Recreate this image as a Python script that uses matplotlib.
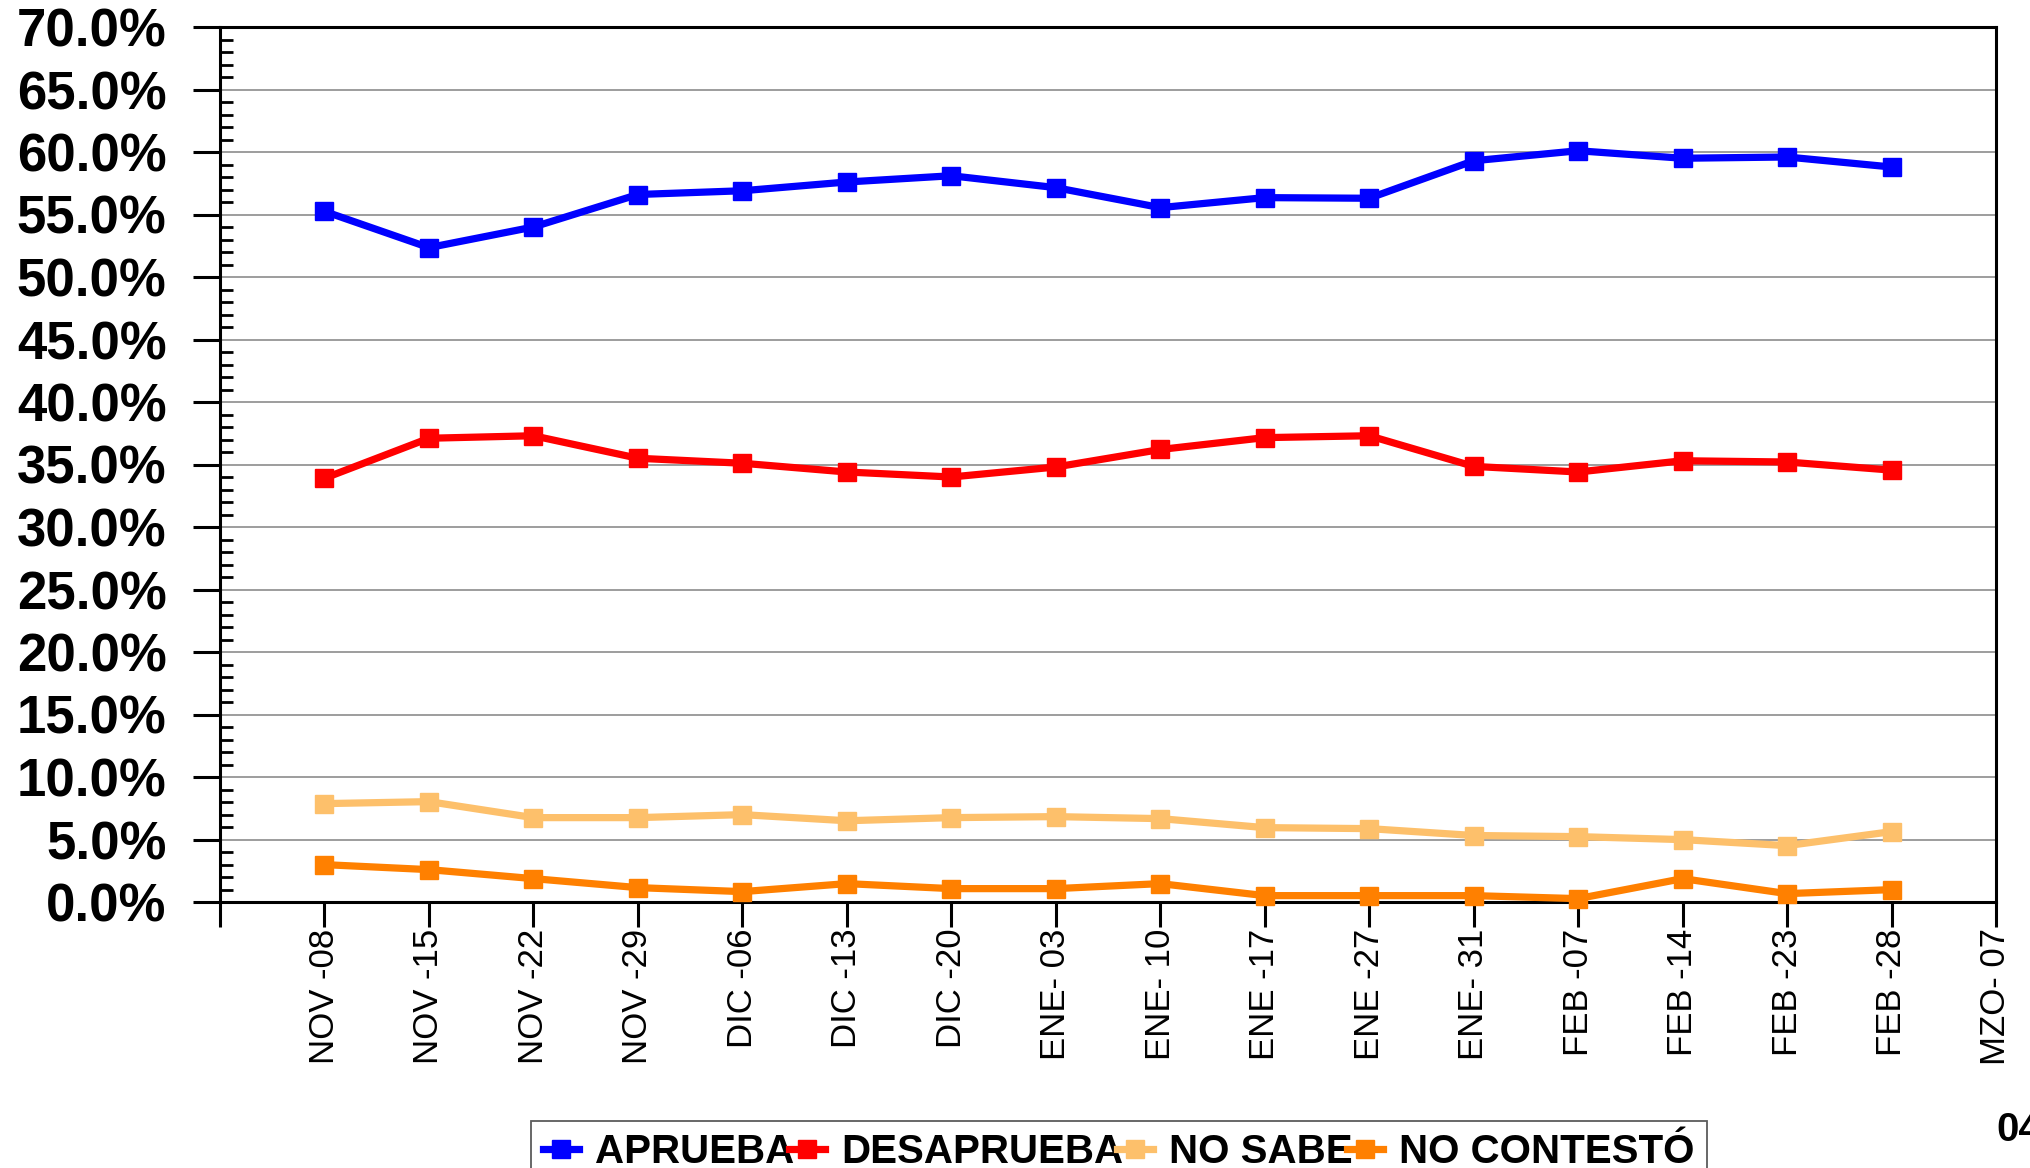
import matplotlib.pyplot as plt
from matplotlib.ticker import MultipleLocator, FuncFormatter

plt.rcParams['font.family'] = ['Liberation Sans', 'DejaVu Sans']

fechas = ['NOV -08', 'NOV -15', 'NOV -22', 'NOV -29', 'DIC -06', 'DIC -13',
          'DIC -20', 'ENE- 03', 'ENE- 10', 'ENE -17', 'ENE -27', 'ENE- 31',
          'FEB -07', 'FEB -14', 'FEB -23', 'FEB -28', 'MZO- 07']

aprueba = [55.25, 52.35, 54.0, 56.6, 56.9, 57.6, 58.1, 57.15, 55.55, 56.35,
           56.3, 59.3, 60.1, 59.5, 59.6, 58.8]
desaprueba = [33.9, 37.1, 37.3, 35.5, 35.1, 34.4, 34.0, 34.8, 36.2, 37.15,
              37.3, 34.85, 34.4, 35.3, 35.2, 34.55]
no_sabe = [7.87, 8.03, 6.75, 6.75, 6.99, 6.5, 6.75, 6.83, 6.67, 5.95,
           5.87, 5.32, 5.23, 4.99, 4.51, 5.63]
no_contesto = [2.99, 2.59, 1.87, 1.15, 0.83, 1.47, 1.07, 1.07, 1.47, 0.51,
               0.51, 0.51, 0.27, 1.87, 0.67, 0.99]

series = [('APRUEBA', aprueba, '#0000FF'),
          ('DESAPRUEBA', desaprueba, '#FF0000'),
          ('NO SABE', no_sabe, '#FDC06B'),
          ('NO CONTESTÓ', no_contesto, '#FF8000')]

W, H = 2031, 1168
fig = plt.figure(figsize=(W / 100, H / 100), dpi=100)
ax = fig.add_axes([220 / W, 1 - 902 / H, (1996 - 220) / W, (902 - 27) / H])

x = list(range(1, len(aprueba) + 1))
for nombre, vals, col in series:
    ax.plot(x, vals, color=col, lw=5.2, marker='s', ms=13, mec=col,
            label=nombre, clip_on=False, zorder=3)

ax.set_xlim(0, len(fechas))
ax.set_ylim(0, 70)
ax.set_xticks(range(len(fechas) + 1))
ax.set_xticklabels([''] + fechas, rotation=90, fontsize=25)
ax.yaxis.set_major_locator(MultipleLocator(5))
ax.yaxis.set_minor_locator(MultipleLocator(1))
ax.yaxis.set_major_formatter(FuncFormatter(lambda v, p: f'{v:.1f}%'))
ax.tick_params(axis='y', which='major', direction='out', length=19.5,
               width=2.2, pad=19, labelsize=38)
ax.tick_params(axis='y', which='minor', direction='in', length=9.5, width=2)
ax.tick_params(axis='x', which='major', direction='out', length=18,
               width=2.2, pad=1)
for lab in ax.get_yticklabels():
    lab.set_fontweight('bold')

ax.yaxis.grid(True, which='major', color='#8c8c8c', lw=1.2)
ax.set_axisbelow(True)
for s in ax.spines.values():
    s.set_linewidth(2.2)
    s.set_color('black')

leg = fig.legend(loc='upper left', bbox_to_anchor=(531 / W, 1 - 1121 / H),
                 ncol=4, frameon=True, fancybox=False, edgecolor='#333333',
                 prop={'weight': 'bold', 'size': 29}, handlelength=0.9,
                 handletextpad=0.4, columnspacing=-0.15, borderpad=0.3,
                 borderaxespad=0)
leg.get_frame().set_linewidth(1.3)

fig.text(1996 / W, 1 - 1141 / H, '04', fontsize=29, fontweight='bold',
         ha='left', va='baseline')

fig.savefig('out.png', dpi=100)
